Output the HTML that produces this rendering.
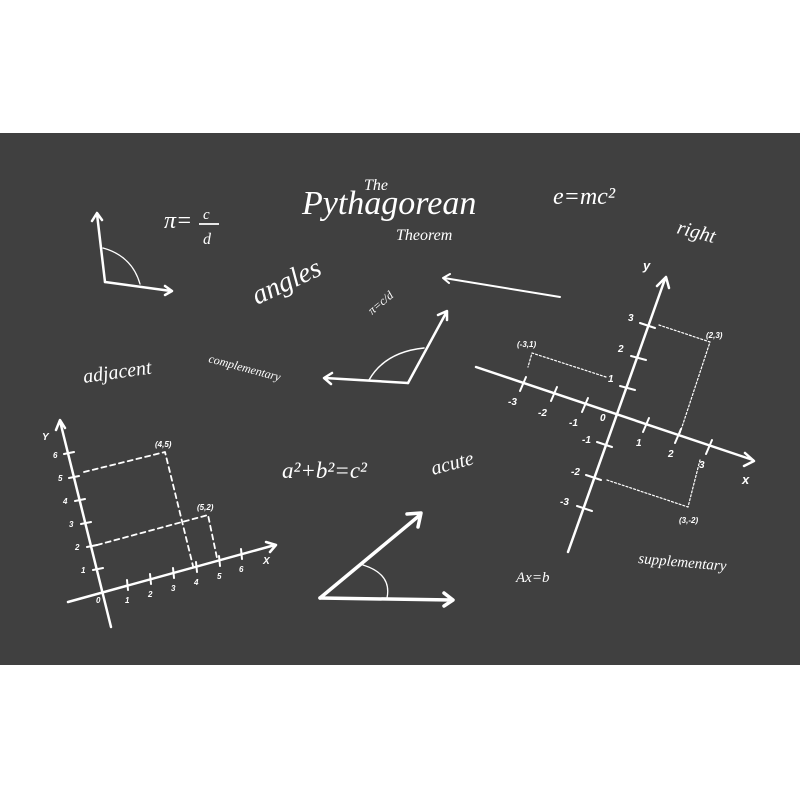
<!DOCTYPE html>
<html><head><style>
html,body{margin:0;padding:0;background:#fff;}
svg{display:block;}
text{fill:#fff;font-family:"Liberation Serif",serif;font-style:italic;}
.s{font-family:"Liberation Sans",sans-serif;font-style:italic;font-weight:bold;}
</style></head><body>
<svg width="800" height="800" viewBox="0 0 800 800" xmlns="http://www.w3.org/2000/svg">
<rect x="0" y="0" width="800" height="800" fill="#fff"/>
<rect x="0" y="133" width="800" height="532" fill="#404040"/>
<g stroke="#fff" fill="none" stroke-linecap="round" stroke-linejoin="round">
 <path d="M105,282 L97,214 M92,221 L97,213 L102,220" stroke-width="2.5"/>
 <path d="M105,282 L171,291 M165,286 L172,291 L165,295" stroke-width="2.5"/>
 <path d="M103,248 Q132,256 140,284" stroke-width="1.3"/>
 <path d="M444,278 L560,297 M450,274 L443,278 L449,283" stroke-width="2"/>
 <path d="M408,383 L325,378 M332,373 L324,378 L331,384" stroke-width="2.5"/>
 <path d="M408,383 L446,313 M438,315 L447,311 L447,320" stroke-width="2.5"/>
 <path d="M369,380 Q385,352 424,348" stroke-width="1.5"/>
 <path d="M320,598 L452,600 M444,593 L453,600 L444,606" stroke-width="3.5"/>
 <path d="M320,598 L420,515 M407,514 L421,513 L418,527" stroke-width="3.5"/>
 <path d="M363,565 Q392,574 387,598" stroke-width="1.3"/>
 <path d="M476,367 L753,460 M745,453 L754,461 L744,466" stroke-width="2.5"/>
 <path d="M568,552 L665,279 M657,286 L666,277 L669,288" stroke-width="2.5"/>
 <g stroke-width="2">
  <path d="M526,377 L520,391 M557,387 L551,401 M588,398 L582,412 M649,418 L643,432 M681,429 L675,443 M712,440 L706,454"/>
  <path d="M620,386 L635,390 M631,356 L646,360 M640,323 L655,328 M597,442 L612,447 M586,475 L601,480 M577,506 L592,511"/>
 </g>
 <g stroke-width="1.2" stroke-dasharray="2,2">
  <path d="M659,325 L710,342 L680,433"/>
  <path d="M606,377 L532,353 L528,367"/>
  <path d="M607,480 L688,507 L700,460"/>
 </g>
 <path d="M68,602 L275,545 M266,542 L276,545 L270,552" stroke-width="2.5"/>
 <path d="M111,627 L60,421 M56,430 L60,420 L65,428" stroke-width="2.5"/>
 <g stroke-width="2">
  <path d="M127,580 L128,590 M150,574 L151,584 M173,568 L174,578 M196,562 L197,572 M219,556 L220,566 M241,549 L242,559"/>
  <path d="M93,570 L103,568 M87,547 L97,545 M81,524 L91,522 M75,501 L85,499 M69,478 L79,476 M64,454 L74,452"/>
 </g>
 <g stroke-width="1.8" stroke-dasharray="5,4">
  <path d="M84,472 L165,452 L193,566"/>
  <path d="M97,545 L208,515 L217,558"/>
 </g>
</g>
<g class="s" font-size="10">
 <text class="s" x="508" y="405">-3</text><text class="s" x="538" y="416">-2</text><text class="s" x="569" y="426">-1</text>
 <text class="s" x="600" y="421">0</text>
 <text class="s" x="636" y="446">1</text><text class="s" x="668" y="457">2</text><text class="s" x="699" y="468">3</text>
 <text class="s" x="608" y="382">1</text><text class="s" x="618" y="352">2</text><text class="s" x="628" y="321">3</text>
 <text class="s" x="582" y="443">-1</text><text class="s" x="571" y="475">-2</text><text class="s" x="560" y="505">-3</text>
 <text class="s" x="643" y="270" font-size="13">y</text><text class="s" x="742" y="484" font-size="13">x</text>
 <text class="s" x="517" y="347" font-size="8">(-3,1)</text>
 <text class="s" x="706" y="338" font-size="8">(2,3)</text>
 <text class="s" x="679" y="523" font-size="8">(3,-2)</text>
</g>
<g font-size="8">
 <text class="s" x="96" y="603">0</text><text class="s" x="125" y="603">1</text><text class="s" x="148" y="597">2</text><text class="s" x="171" y="591">3</text><text class="s" x="194" y="585">4</text><text class="s" x="217" y="579">5</text><text class="s" x="239" y="572">6</text>
 <text class="s" x="81" y="573">1</text><text class="s" x="75" y="550">2</text><text class="s" x="69" y="527">3</text><text class="s" x="63" y="504">4</text><text class="s" x="58" y="481">5</text><text class="s" x="53" y="458">6</text>
 <text class="s" x="42" y="440" font-size="10">Y</text><text class="s" x="263" y="564" font-size="10">X</text>
 <text class="s" x="155" y="447">(4,5)</text><text class="s" x="197" y="510">(5,2)</text>
</g>
<text x="302" y="214" font-size="34">Pythagorean</text>
<text x="364" y="190" font-size="16">The</text>
<text x="396" y="240" font-size="16">Theorem</text>
<text x="164" y="228" font-size="24">π=</text>
<text x="203" y="219" font-size="15">c</text>
<text x="203" y="244" font-size="16">d</text>
<line x1="199" y1="224" x2="219" y2="224" stroke="#fff" stroke-width="1.8"/>
<text x="553" y="204" font-size="24">e=mc²</text>
<text x="676" y="233" font-size="20" transform="rotate(15 676 233)">right</text>
<text x="257" y="305" font-size="28" transform="rotate(-25 257 305)">angles</text>
<text x="372" y="315" font-size="12" transform="rotate(-40 372 315)">π=c/d</text>
<text x="84" y="383" font-size="20" transform="rotate(-8 84 383)">adjacent</text>
<text x="208" y="362" font-size="12" transform="rotate(15 208 362)">complementary</text>
<text x="282" y="478" font-size="23">a²+b²=c²</text>
<text x="433" y="475" font-size="20" transform="rotate(-15 433 475)">acute</text>
<text x="516" y="582" font-size="15">Ax=b</text>
<text x="638" y="563" font-size="15" transform="rotate(5 638 563)">supplementary</text>
</svg>
</body></html>
